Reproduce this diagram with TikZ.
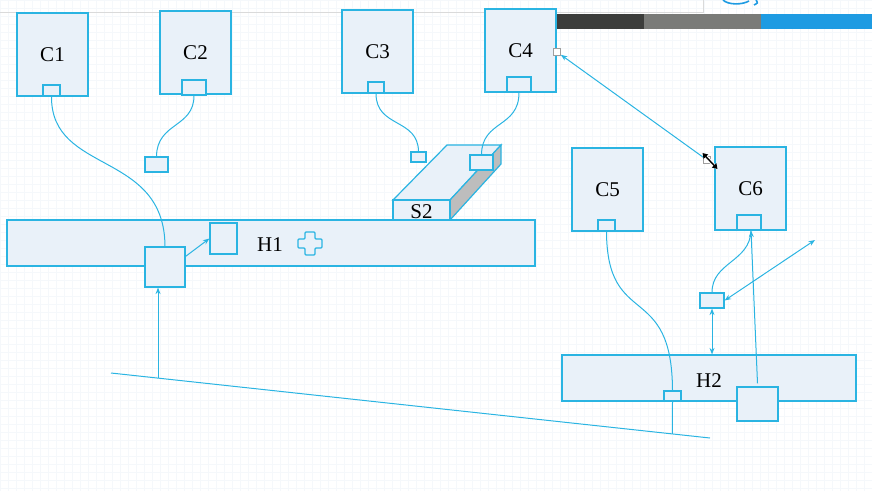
\documentclass[tikz,border=0pt]{standalone}
\usepackage{fontspec}
\setmainfont{Liberation Serif}
\definecolor{dialine}{HTML}{2AB4E2}
\definecolor{diafill}{HTML}{E9F1F9}
\definecolor{diagrid}{HTML}{F5F8FB}
\definecolor{handlegray}{HTML}{9E9E9E}
\definecolor{sidegray}{HTML}{BDBDBD}
\definecolor{bardark}{HTML}{3C3D3B}
\definecolor{bargray}{HTML}{7A7B78}
\definecolor{barblue}{HTML}{1E9BE2}
\definecolor{toprule}{HTML}{DADADA}
\usetikzlibrary{arrows.meta, calc}
\tikzset{
  >={Stealth[length=6.5pt, width=5pt]},
  every node/.style={font=\fontsize{21}{24}\selectfont},
  card/.style={
    rectangle, draw=dialine, fill=diafill, line width=1.2pt,
    minimum width=71pt, minimum height=83pt, inner sep=0pt
  },
  port/.style={
    rectangle, draw=dialine, fill=diafill, line width=1.2pt, inner sep=0pt
  },
  hub/.style={
    rectangle, draw=dialine, fill=diafill, line width=1.2pt, inner sep=0pt
  },
  handle/.style={
    rectangle, draw=handlegray, fill=white, line width=0.7pt,
    minimum size=7pt, inner sep=0pt
  },
  wire/.style={dialine, line width=1pt}
}

\begin{document}
\begin{tikzpicture}[x=1pt, y=-1pt]
\useasboundingbox (0,0) rectangle (872,491);

% canvas grid and editor chrome
\draw[diagrid, line width=0.25pt, step=8pt] (0,0) grid (872,491);
\draw[toprule, line width=1pt] (0,12) -- (703,12) -- (703,0);
\fill[bardark] (556,14) rectangle (644,29);
\fill[bargray] (644,14) rectangle (761,29);
\fill[barblue] (761,14) rectangle (872,29);
\draw[barblue, line width=1.6pt] (723,0) .. controls (728,5) and (742,5) .. (749,1);
\draw[barblue, line width=1.6pt] (756,0) .. controls (758,3) .. (754,5);

% clients
\node[card] (C1) at (52.5,54.5)  {C1};
\node[card] (C2) at (195.5,52.5) {C2};
\node[card] (C3) at (377.5,51.5) {C3};
\node[card] (C4) at (520.5,50.5) {C4};
\node[card] (C5) at (607.5,189.5) {C5};
\node[card] (C6) at (750.5,188.5) {C6};

\node[port, minimum width=17pt, minimum height=11pt] (C1p) at (51.5,90.5) {};
\node[port, minimum width=24pt, minimum height=15pt] (C2p) at (194,87.5) {};
\node[port, minimum width=16pt, minimum height=11pt] (C3p) at (376,87.5) {};
\node[port, minimum width=24pt, minimum height=15pt] (C4p) at (519,84.5) {};
\node[port, minimum width=17pt, minimum height=11pt] (C5p) at (606.5,225.5) {};
\node[port, minimum width=24pt, minimum height=15pt] (C6p) at (749,222.5) {};

% loose plugs
\node[port, minimum width=23pt, minimum height=15pt] (plugA) at (156.5,164.5) {};
\node[port, minimum width=15pt, minimum height=10pt] (plugB) at (418.5,157) {};
\node[port, minimum width=24pt, minimum height=15pt] (plugC) at (712,300.5) {};

% switch S2 (box drawn as faces)
\filldraw[fill=diafill, draw=dialine, line width=1.2pt]
  (393,200) -- (447,145) -- (501,145) -- (450,200) -- cycle;
\filldraw[fill=sidegray, draw=dialine, line width=1.2pt]
  (450,200) -- (501,145) -- (501,164) -- (450,220) -- cycle;
\filldraw[fill=diafill, draw=dialine, line width=1.2pt] (393,200) rectangle (450,220);
\node[inner sep=0pt] (S2) at (421.5,212) {S2};
\node[port, minimum width=23pt, minimum height=15pt] (S2p) at (481.5,162.5) {};

% hosts
\node[hub, minimum width=528pt, minimum height=46pt] (H1) at (271,243) {};
\node at (270,245) {H1};
\node[hub, minimum width=294pt, minimum height=46pt] (H2) at (709,378) {};
\node at (709,381) {H2};

% plus sign on H1
\draw[dialine, line width=1.2pt, rounded corners=1pt]
  (305,232) -- (315,232) -- (315,239) -- (322,239) -- (322,248) -- (315,248)
  -- (315,255) -- (305,255) -- (305,248) -- (298,248) -- (298,239) -- (305,239) -- cycle;

% base line and taps
\coordinate (baseL) at (111,373);
\coordinate (baseR) at (710,438);
\draw[wire] (baseL) -- (baseR)
  coordinate[pos=0.0785] (tapA) coordinate[pos=0.937] (tapB);

% cables
\draw[wire] (C1p.south) .. controls (51,175) and (165,150) .. (165,247);
\draw[wire] (C2p.south) .. controls (194,128) and (157,122) .. (plugA.north);
\draw[wire] (C3p.south) .. controls (376,128) and (418,118) .. (plugB.north);
\draw[wire] (C4p.south) .. controls (519,128) and (482,120) .. (S2p.north);

\node[hub, minimum width=27pt, minimum height=31pt] (H1a) at (223.5,238.5) {};
\node[hub, minimum width=40pt, minimum height=40pt] (H1b) at (165,267) {};
\draw[wire, ->] (H1b.north east) ++(0,10) coordinate (H1bo) -- (H1a.west);
\draw[wire, ->] (tapA) -- (tapA |- H1b.south);

\node[port, minimum width=17pt, minimum height=10pt] (H2p) at (672.5,396) {};
\node[hub, minimum width=41pt, minimum height=34pt] (H2b) at (757.5,404) {};
\draw[wire] (C5p.south) .. controls (607,330) and (672,280) .. (H2p.north);
\draw[wire] (H2p.south) -- (tapB);
\draw[wire, ->] ($(H2b.north)+(0,-3)$) -- ($(C6p.south)+(2,0)$);
\draw[wire] (plugC.north) .. controls (712,262) and (750,262) .. ($(C6p.south)+(2,0)$);
\draw[wire, <->] (plugC.south) -- (plugC.south |- H2.north);
\coordinate (freeEnd) at (815,240);
\draw[wire, <->] (freeEnd) -- (plugC.east);

% dragged link C6 -> C4
\node[handle] (C4h) at (557,52) {};
\node[handle] (dragH) at (707,160) {};
\draw[wire, ->] (dragH) -- (C4h);

% mouse cursor
\draw[white, line width=3.2pt] (703.5,154) -- (716.5,168);
\draw[black, line width=1.4pt, {Triangle[length=5pt, width=6pt]}-{Triangle[length=5pt, width=6pt]}]
  (702.5,153) -- (717.5,169);
\end{tikzpicture}
\end{document}
